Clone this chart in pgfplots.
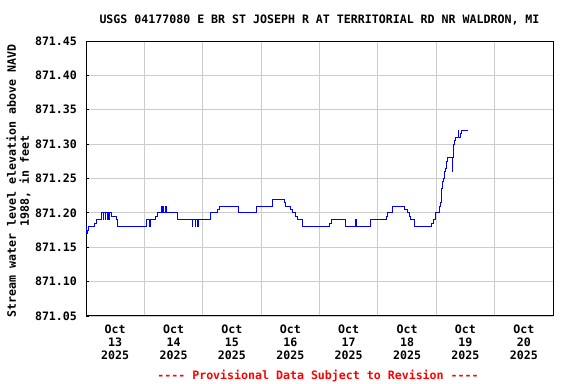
\documentclass[border=0pt]{standalone}
\usepackage{fontspec}
\setmonofont{DejaVu Sans Mono}
\usepackage{pgfplots}
\pgfplotsset{compat=1.18}
\newcommand\lab{\fontsize{11.6bp}{13bp}\selectfont\ttfamily\bfseries}
\begin{document}
\lab
\begin{tikzpicture}
\path[use as bounding box] (0bp,0bp) rectangle (576bp,384bp);
\begin{axis}[
  at={(86bp,68bp)}, anchor=south west,
  scale only axis, width=467bp, height=275bp,
  xmin=0, xmax=8, ymin=871.05, ymax=871.45,
  axis line style={line width=1bp, black},
  ytick={871.05,871.10,871.15,871.20,871.25,871.30,871.35,871.40,871.45},
  ytick pos=left, tick align=inside, major tick length=3bp,
  ytick style={black, line width=0.8bp},
  yticklabel style={font=\lab, xshift=-5bp},
  /pgf/number format/.cd, fixed, fixed zerofill, precision=2, 1000 sep={}, assume math mode=true,
  /pgfplots/.cd,
  xtick={0.5,1.5,...,7.5},
  xticklabels={{Oct\\13\\2025},{Oct\\14\\2025},{Oct\\15\\2025},{Oct\\16\\2025},{Oct\\17\\2025},{Oct\\18\\2025},{Oct\\19\\2025},{Oct\\20\\2025}},
  xticklabel style={font=\lab, align=center, yshift=-5bp},
  xtick style={draw=none},
  minor xtick={1,2,3,4,5,6,7},
  minor x tick style={draw=none},
  xminorgrids=true, ymajorgrids=true,
  major grid style={draw=black!20, line width=0.8bp},
  minor grid style={draw=black!20, line width=0.8bp},
  title={USGS 04177080 E BR ST JOSEPH R AT TERRITORIAL RD NR WALDRON, MI},
  title style={font=\lab, at={(axis description cs:0.5,1)}, anchor=base, yshift=11.5bp},
  ylabel={Stream water level elevation above NAVD\\1988, in feet},
  ylabel style={font=\lab, align=center, at={(rel axis cs:-0.1445,0.491)}, anchor=center},
]
\addplot[const plot, color={rgb,255:red,0;green,0;blue,255}, line width=1bp] table[x=d, y=v] {
d v
0.000 871.18
0.014 871.17
0.034 871.175
0.051 871.18
0.145 871.185
0.179 871.19
0.259 871.20
0.300 871.19
0.306 871.20
0.330 871.19
0.336 871.20
0.360 871.19
0.366 871.20
0.392 871.19
0.398 871.20
0.430 871.195
0.515 871.19
0.543 871.18
1.044 871.19
1.092 871.18
1.098 871.19
1.191 871.195
1.220 871.20
1.300 871.21
1.306 871.20
1.330 871.21
1.336 871.20
1.365 871.21
1.371 871.20
1.567 871.19
1.825 871.18
1.831 871.19
1.870 871.18
1.876 871.19
1.915 871.18
1.921 871.19
2.137 871.20
2.261 871.205
2.283 871.21
2.614 871.20
2.927 871.21
3.195 871.22
3.392 871.215
3.422 871.21
3.507 871.205
3.536 871.20
3.592 871.195
3.621 871.19
3.706 871.18
4.177 871.185
4.201 871.19
4.445 871.18
4.616 871.19
4.638 871.18
4.872 871.19
5.140 871.195
5.162 871.20
5.242 871.21
5.464 871.205
5.503 871.20
5.538 871.195
5.563 871.19
5.635 871.18
5.918 871.185
5.952 871.19
5.986 871.20
6.049 871.21
6.072 871.215
6.089 871.235
6.106 871.245
6.123 871.25
6.140 871.26
6.157 871.265
6.174 871.275
6.191 871.28
6.276 871.26
6.285 871.28
6.294 871.30
6.311 871.305
6.334 871.31
6.379 871.32
6.387 871.31
6.408 871.315
6.430 871.32
6.549 871.32
};
\end{axis}
\node[text=red, font=\lab, anchor=base] at (318bp,5bp) {---- Provisional Data Subject to Revision ----};
\end{tikzpicture}
\end{document}
